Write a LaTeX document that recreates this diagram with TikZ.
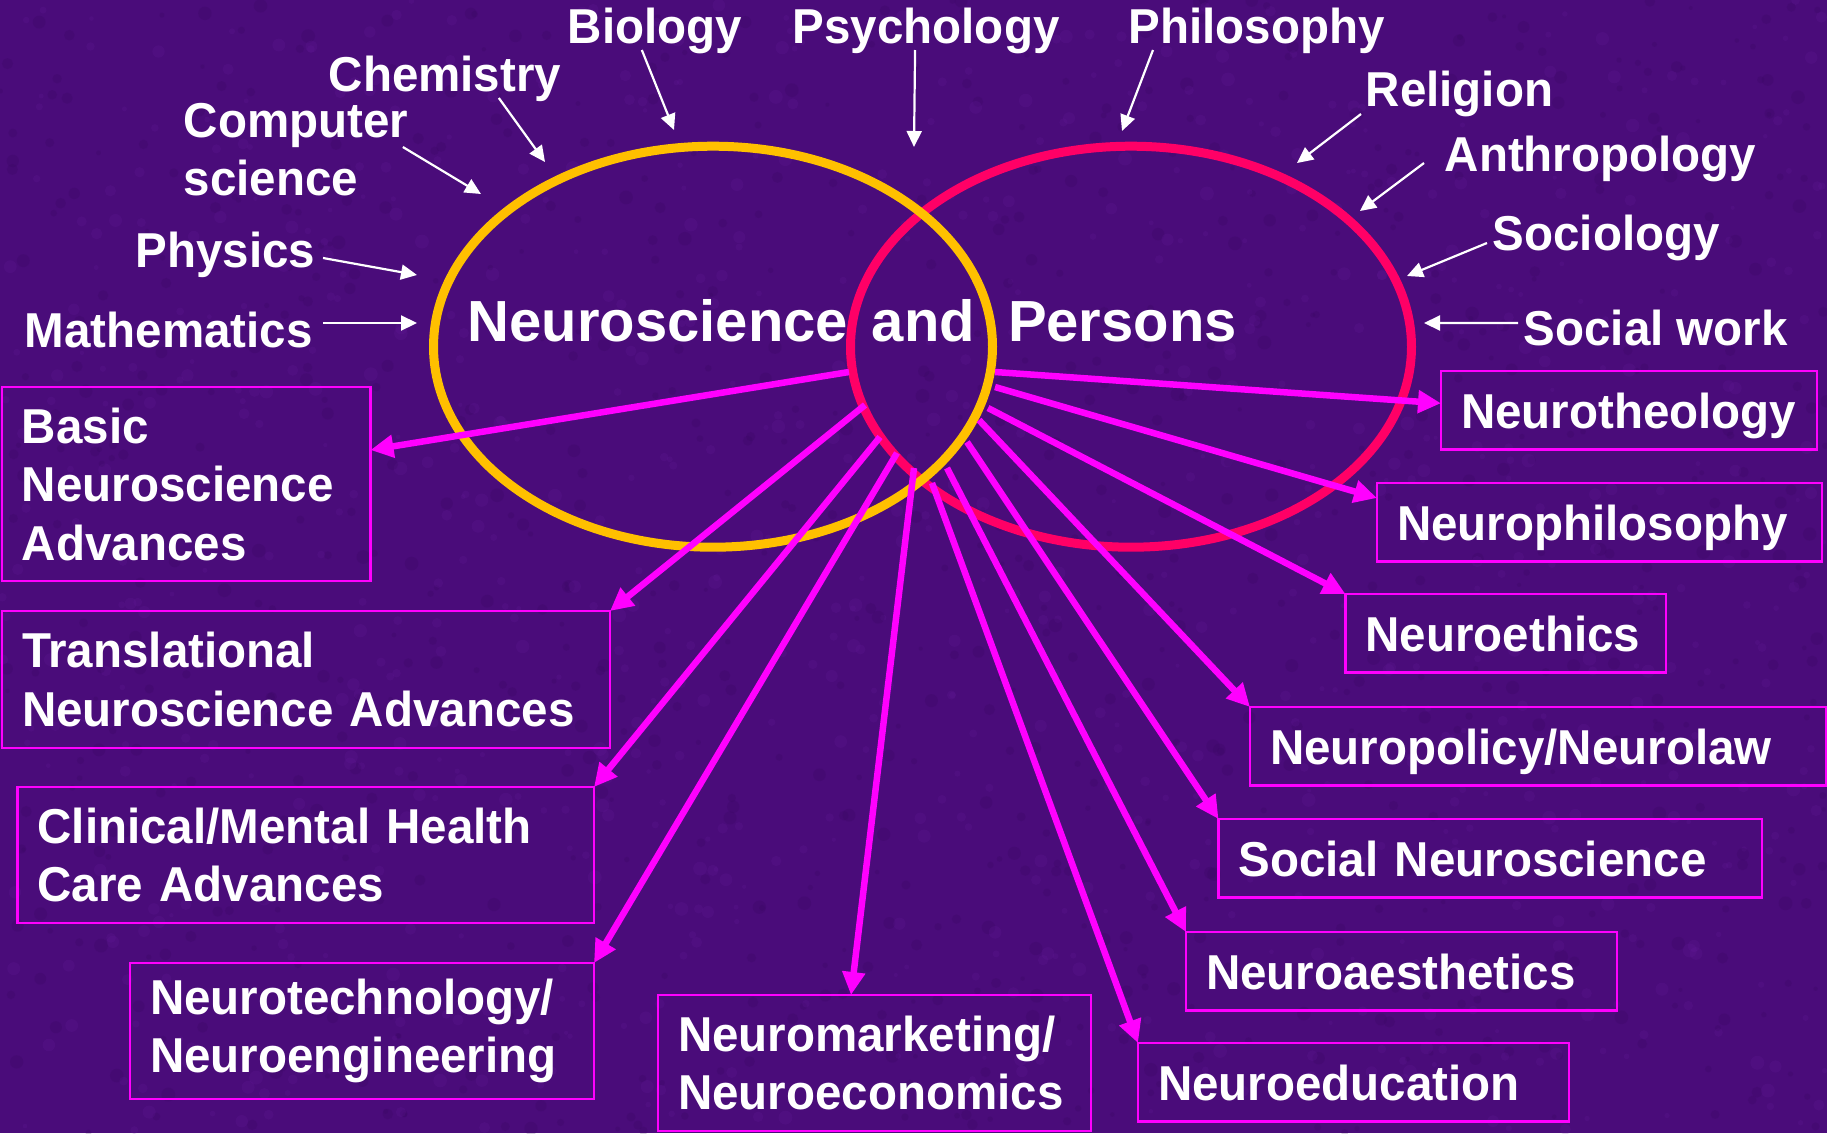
\documentclass[tikz,border=0pt]{standalone}
\usepackage{fontspec}
\usepackage{tikz}
\usetikzlibrary{arrows.meta}
\newfontfamily\labelfont[FakeStretch=0.97]{Liberation Sans}
\newfontfamily\titlefont{Liberation Sans}
\definecolor{bgpurple}{RGB}{74,12,122}
\definecolor{specklight}{RGB}{110,32,165}
\definecolor{speckdark}{RGB}{50,5,88}
\definecolor{ringgold}{RGB}{255,192,0}
\definecolor{ringrose}{RGB}{255,0,102}
\definecolor{fanpink}{RGB}{255,0,255}
\hyphenpenalty=10000

\begin{document}
\begin{tikzpicture}[
        field/.style={text=white, inner sep=0pt, align=left, font=\labelfont\bfseries\fontsize{13.94pt}{16.5pt}\selectfont},
        area/.style={draw=fanpink, line width=0.025cm, text=white, anchor=north west, inner xsep=0.2cm, inner ysep=0pt, outer sep=0pt, align=left, font=\labelfont\bfseries\fontsize{13.94pt}{16.64pt}\selectfont},
        oneline/.style={area, text depth=0pt, minimum height=0.785cm},
        feed/.style={-{Triangle[length=0.16cm, width=0.15cm]}, white, line width=0.022cm},
        spoke/.style={-{Triangle[length=0.23cm, width=0.22cm]}, fanpink, line width=0.065cm},
        ring/.style={line width=0.09cm}
    ]
        \useasboundingbox (0,0) rectangle (18.27,11.33);

        % mottled purple backdrop
        \begin{scope}
            \clip (0,0) rectangle (18.27,11.33);
            \fill [bgpurple] (0,0) rectangle (18.27,11.33);
            \pgfmathsetseed{42}
            \foreach \k in {1,...,900} {
                \pgfmathsetmacro{\sx}{18.27*rnd}
                \pgfmathsetmacro{\sy}{11.33*rnd}
                \pgfmathsetmacro{\sr}{0.02+0.05*rnd}
                \fill [specklight, fill opacity=0.16] (\sx,\sy) circle (\sr);
                \pgfmathsetmacro{\sx}{18.27*rnd}
                \pgfmathsetmacro{\sy}{11.33*rnd}
                \fill [speckdark, fill opacity=0.18] (\sx,\sy) circle (\sr);
            }
        \end{scope}

        % Titulo y los dos anillos
        \node [anchor=base west, inner sep=0pt, text=white, font=\titlefont\bfseries\fontsize{16.5pt}{19pt}\selectfont] (title) at (4.67, 7.913) {Neuroscience\hspace{0.24cm}and\hspace{0.33cm}Persons};
        \draw [ring, ringrose] (11.31, 7.863) ellipse [x radius=2.805, y radius=2.005];
        \draw [ring, ringgold] (7.13, 7.863) ellipse [x radius=2.795, y radius=2.005];

        % Disciplinas que alimentan
        \node [field, anchor=base west] (bio) at (5.67, 10.90) {Biology};
        \node [field, anchor=base west] (psych) at (7.92, 10.90) {Psychology};
        \node [field, anchor=base west] (philo) at (11.28, 10.90) {Philosophy};
        \node [field, anchor=base west] (chem) at (3.28, 10.42) {Chemistry};
        \node [field, anchor=west] (comp) at (1.83, 9.835) {Computer\\science};
        \node [field, anchor=base west] (phys) at (1.35, 8.66) {Physics};
        \node [field, anchor=base west] (math) at (0.24, 7.86) {Mathematics};
        \node [field, anchor=base west] (relig) at (13.65, 10.27) {Religion};
        \node [field, anchor=base west] (anthro) at (14.44, 9.62) {Anthropology};
        \node [field, anchor=base west] (socio) at (14.92, 8.83) {Sociology};
        \node [field, anchor=base west] (socwork) at (15.23, 7.88) {Social work};

        \coordinate (tBio) at (6.74, 10.03);
        \coordinate (tPsych) at (9.14, 9.86);
        \coordinate (tPhilo) at (11.22, 10.02);
        \coordinate (tChem) at (5.45, 9.71);
        \coordinate (tComp) at (4.81, 9.39);
        \coordinate (tPhys) at (4.17, 8.58);
        \coordinate (tMath) at (4.17, 8.10);
        \coordinate (tRelig) at (12.97, 9.70);
        \coordinate (tAnthro) at (13.60, 9.22);
        \coordinate (tSocio) at (14.07, 8.57);
        \coordinate (tSocWork) at (14.24, 8.10);

        \draw [feed] ([shift={(-0.13,-0.07)}]bio.base) -- (tBio);
        \draw [feed] ([shift={(-0.11,-0.07)}]psych.base) -- (tPsych);
        \draw [feed] ([shift={(0.25,-0.07)}]philo.base west) -- (tPhilo);
        \draw [feed] ([shift={(-0.63,-0.07)}]chem.base east) -- (tChem);
        \draw [feed] ([shift={(-0.06,0.025)}]comp.east) -- (tComp);
        \draw [feed] ([shift={(0.07,0.09)}]phys.base east) -- (tPhys);
        \draw [feed] ([shift={(0.10,0.24)}]math.base east) -- (tMath);
        \draw [feed] ([shift={(-0.04,-0.08)}]relig.base west) -- (tRelig);
        \draw [feed] ([shift={(-0.20,0.08)}]anthro.base west) -- (tAnthro);
        \draw [feed] ([shift={(-0.05,0.07)}]socio.base west) -- (tSocio);
        \draw [feed] ([shift={(-0.05,0.22)}]socwork.base west) -- (tSocWork);

        % Campos aplicados (izquierda y abajo)
        \node [area, minimum width=3.685cm, minimum height=1.94cm, text width=3.285cm] (basic) at (0.02, 7.46) {Basic\\Neuroscience\\Advances};
        \node [area, minimum width=6.08cm, minimum height=1.37cm, text width=5.68cm] (trans) at (0.02, 5.22) {Translational\\Neuroscience Advances};
        \node [area, minimum width=5.765cm, minimum height=1.36cm, text width=5.365cm] (clin) at (0.175, 3.46) {Clinical/Mental Health\\Care Advances};
        \node [area, minimum width=4.64cm, minimum height=1.36cm, text width=4.24cm] (tech) at (1.30, 1.70) {Neurotechnology/\\Neuroengineering};
        \node [area, minimum width=4.33cm, minimum height=1.36cm, text width=3.93cm] (mark) at (6.58, 1.38) {Neuromarketing/\\Neuroeconomics};

        % Campos aplicados (derecha)
        \node [oneline, minimum width=3.76cm, text width=3.36cm] (theo) at (14.41, 7.62) {Neurotheology};
        \node [oneline, minimum width=4.45cm, text width=4.05cm] (phil) at (13.77, 6.50) {Neurophilosophy};
        \node [oneline, minimum width=3.205cm, text width=2.805cm] (ethics) at (13.455, 5.39) {Neuroethics};
        \node [oneline, minimum width=5.76cm, text width=5.36cm] (policy) at (12.50, 4.26) {Neuropolicy/Neurolaw};
        \node [oneline, minimum width=5.435cm, text width=5.035cm] (social) at (12.185, 3.14) {Social Neuroscience};
        \node [oneline, minimum width=4.31cm, text width=3.91cm] (aesth) at (11.86, 2.01) {Neuroaesthetics};
        \node [oneline, minimum width=4.31cm, text width=3.91cm] (educ) at (11.38, 0.90) {Neuroeducation};

        % Abanico desde la interseccion
        \coordinate (sBasic) at (8.49, 7.61);
        \coordinate (sTrans) at (8.65, 7.28);
        \coordinate (sClin) at (8.80, 6.96);
        \coordinate (sTech) at (8.97, 6.80);
        \coordinate (sMark) at (9.14, 6.65);
        \coordinate (sEduc) at (9.32, 6.50);
        \coordinate (sAesth) at (9.47, 6.65);
        \coordinate (sSocial) at (9.67, 6.91);
        \coordinate (sPolicy) at (9.79, 7.13);
        \coordinate (sEthics) at (9.88, 7.25);
        \coordinate (sPhil) at (9.95, 7.46);
        \coordinate (sTheo) at (9.95, 7.61);

        \draw [spoke] (sBasic) -- ([yshift=0.34cm]basic.east);
        \draw [spoke] (sTrans) -- (trans.north east);
        \draw [spoke] (sClin) -- (clin.north east);
        \draw [spoke] (sTech) -- (tech.north east);
        \draw [spoke] (sMark) -- ([xshift=-0.235cm]mark.north);
        \draw [spoke] (sEduc) -- (educ.north west);
        \draw [spoke] (sAesth) -- (aesth.north west);
        \draw [spoke] (sSocial) -- (social.north west);
        \draw [spoke] (sPolicy) -- (policy.north west);
        \draw [spoke] (sEthics) -- (ethics.north west);
        \draw [spoke] (sPhil) -- ([yshift=-0.15cm]phil.north west);
        \draw [spoke] (sTheo) -- ([yshift=0.07cm]theo.west);
    \end{tikzpicture}
\end{document}
